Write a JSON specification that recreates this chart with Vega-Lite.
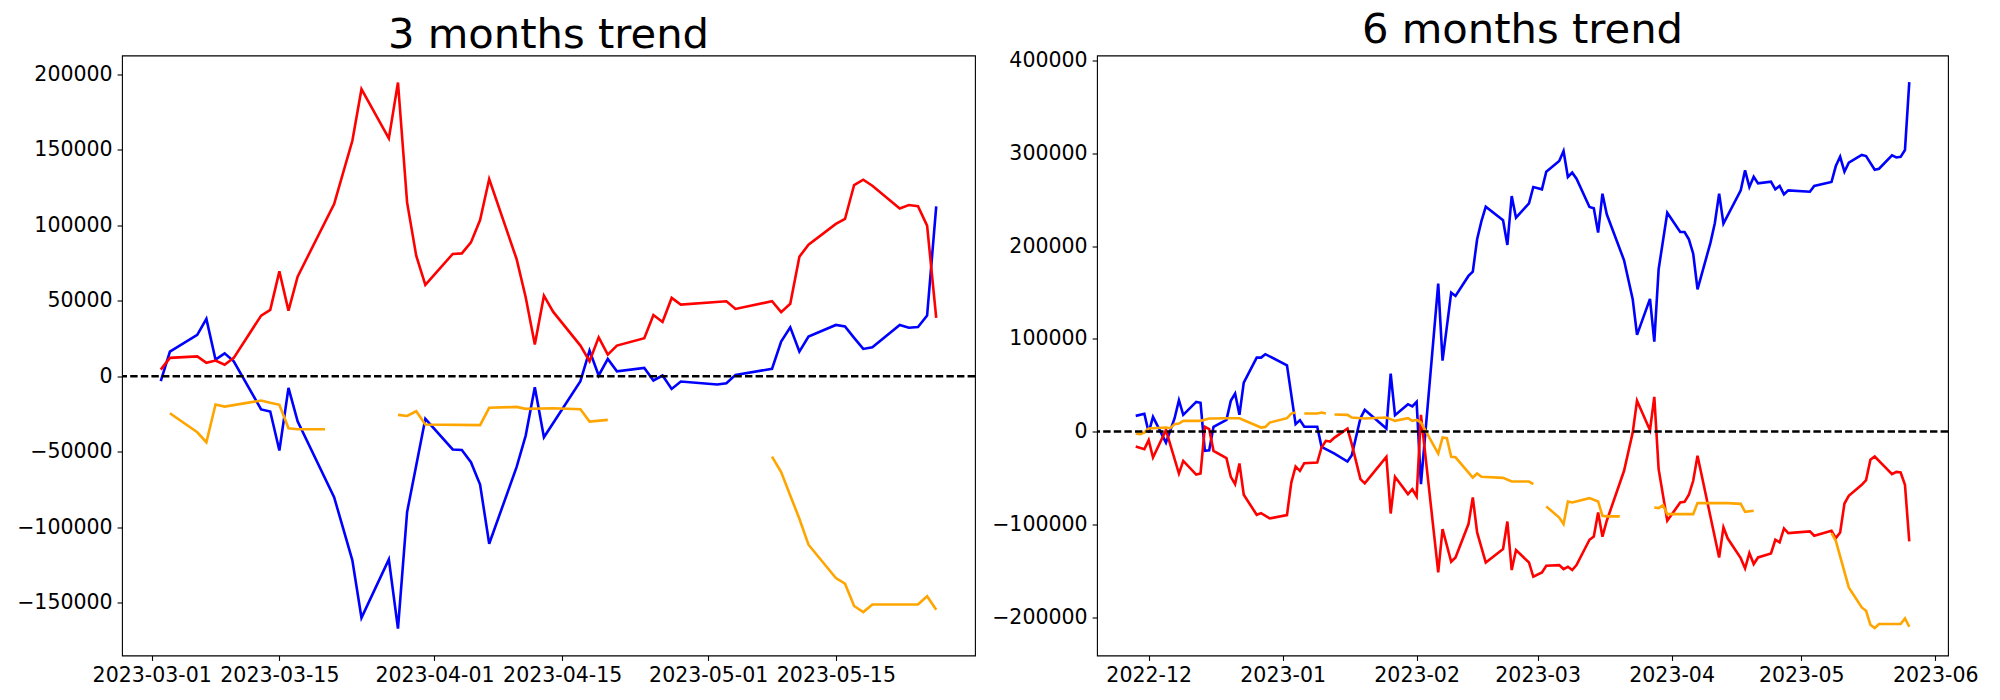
{
"$schema":"https://vega.github.io/schema/vega-lite/v6.json",
"padding":{"left":16,"top":8.5,"right":0,"bottom":0},
"spacing":14,
"background":"white",
"config":{
 "view":{"stroke":"black","strokeWidth":1.1},
 "axis":{"grid":false,"domain":false,"tickColor":"black","tickSize":4.9,"tickWidth":1.1,"labelFont":"DejaVu Sans","labelFontSize":20.5,"labelColor":"black","labelPadding":5,"labelFlush":false,"labelOverlap":false,"labelBound":false},
 "title":{"font":"DejaVu Sans","fontSize":41.7,"fontWeight":"normal","color":"black","offset":-1,"anchor":"middle","baseline":"alphabetic"},
 "line":{"strokeWidth":2.6}
},
"datasets":{
"m3":[
{"d":"2023-03-02","s":"b","g":0,"v":-3300},{"d":"2023-03-03","s":"b","g":0,"v":16350},{"d":"2023-03-06","s":"b","g":0,"v":27400},{"d":"2023-03-07","s":"b","g":0,"v":38000},{"d":"2023-03-08","s":"b","g":0,"v":11000},{"d":"2023-03-09","s":"b","g":0,"v":15200},{"d":"2023-03-10","s":"b","g":0,"v":9900},{"d":"2023-03-13","s":"b","g":0,"v":-22000},{"d":"2023-03-14","s":"b","g":0,"v":-23400},{"d":"2023-03-15","s":"b","g":0,"v":-49200},{"d":"2023-03-16","s":"b","g":0,"v":-7700},{"d":"2023-03-17","s":"b","g":0,"v":-29800},{"d":"2023-03-21","s":"b","g":0,"v":-80100},{"d":"2023-03-22","s":"b","g":0,"v":-101000},{"d":"2023-03-23","s":"b","g":0,"v":-122000},{"d":"2023-03-24","s":"b","g":0,"v":-160000},{"d":"2023-03-27","s":"b","g":0,"v":-121300},{"d":"2023-03-28","s":"b","g":0,"v":-167200},{"d":"2023-03-29","s":"b","g":0,"v":-90000},{"d":"2023-03-30","s":"b","g":0,"v":-59100},{"d":"2023-03-31","s":"b","g":0,"v":-28200},{"d":"2023-04-03","s":"b","g":0,"v":-48500},{"d":"2023-04-04","s":"b","g":0,"v":-48800},{"d":"2023-04-05","s":"b","g":0,"v":-56900},{"d":"2023-04-06","s":"b","g":0,"v":-71700},{"d":"2023-04-07","s":"b","g":0,"v":-111000},{"d":"2023-04-10","s":"b","g":0,"v":-60200},{"d":"2023-04-11","s":"b","g":0,"v":-39300},{"d":"2023-04-12","s":"b","g":0,"v":-7300},{"d":"2023-04-13","s":"b","g":0,"v":-40400},{"d":"2023-04-17","s":"b","g":0,"v":-3300},{"d":"2023-04-18","s":"b","g":0,"v":17000},{"d":"2023-04-19","s":"b","g":0,"v":500},{"d":"2023-04-20","s":"b","g":0,"v":11500},{"d":"2023-04-21","s":"b","g":0,"v":3300},{"d":"2023-04-24","s":"b","g":0,"v":5500},{"d":"2023-04-25","s":"b","g":0,"v":-2800},{"d":"2023-04-26","s":"b","g":0,"v":500},{"d":"2023-04-27","s":"b","g":0,"v":-8400},{"d":"2023-04-28","s":"b","g":0,"v":-3500},{"d":"2023-05-02","s":"b","g":0,"v":-5500},{"d":"2023-05-03","s":"b","g":0,"v":-4600},{"d":"2023-05-04","s":"b","g":0,"v":900},{"d":"2023-05-08","s":"b","g":0,"v":4900},{"d":"2023-05-09","s":"b","g":0,"v":23000},{"d":"2023-05-10","s":"b","g":0,"v":32400},{"d":"2023-05-11","s":"b","g":0,"v":16350},{"d":"2023-05-12","s":"b","g":0,"v":26300},{"d":"2023-05-15","s":"b","g":0,"v":34000},{"d":"2023-05-16","s":"b","g":0,"v":33000},{"d":"2023-05-17","s":"b","g":0,"v":25400},{"d":"2023-05-18","s":"b","g":0,"v":18100},{"d":"2023-05-19","s":"b","g":0,"v":19200},{"d":"2023-05-22","s":"b","g":0,"v":34000},{"d":"2023-05-23","s":"b","g":0,"v":32100},{"d":"2023-05-24","s":"b","g":0,"v":32600},{"d":"2023-05-25","s":"b","g":0,"v":40200},{"d":"2023-05-26","s":"b","g":0,"v":112500},
{"d":"2023-03-02","s":"r","g":0,"v":4400},{"d":"2023-03-03","s":"r","g":0,"v":12200},{"d":"2023-03-06","s":"r","g":0,"v":13200},{"d":"2023-03-07","s":"r","g":0,"v":8900},{"d":"2023-03-08","s":"r","g":0,"v":10400},{"d":"2023-03-09","s":"r","g":0,"v":7600},{"d":"2023-03-10","s":"r","g":0,"v":12200},{"d":"2023-03-13","s":"r","g":0,"v":40200},{"d":"2023-03-14","s":"r","g":0,"v":44000},{"d":"2023-03-15","s":"r","g":0,"v":69500},{"d":"2023-03-16","s":"r","g":0,"v":43500},{"d":"2023-03-17","s":"r","g":0,"v":66000},{"d":"2023-03-21","s":"r","g":0,"v":114100},{"d":"2023-03-22","s":"r","g":0,"v":135000},{"d":"2023-03-23","s":"r","g":0,"v":156000},{"d":"2023-03-24","s":"r","g":0,"v":190200},{"d":"2023-03-27","s":"r","g":0,"v":157600},{"d":"2023-03-28","s":"r","g":0,"v":194600},{"d":"2023-03-29","s":"r","g":0,"v":115200},{"d":"2023-03-30","s":"r","g":0,"v":79900},{"d":"2023-03-31","s":"r","g":0,"v":60500},{"d":"2023-04-03","s":"r","g":0,"v":81000},{"d":"2023-04-04","s":"r","g":0,"v":81400},{"d":"2023-04-05","s":"r","g":0,"v":88700},{"d":"2023-04-06","s":"r","g":0,"v":103500},{"d":"2023-04-07","s":"r","g":0,"v":130700},{"d":"2023-04-10","s":"r","g":0,"v":77700},{"d":"2023-04-11","s":"r","g":0,"v":52300},{"d":"2023-04-12","s":"r","g":0,"v":21000},{"d":"2023-04-13","s":"r","g":0,"v":53400},{"d":"2023-04-14","s":"r","g":0,"v":42800},{"d":"2023-04-17","s":"r","g":0,"v":20300},{"d":"2023-04-18","s":"r","g":0,"v":10000},{"d":"2023-04-19","s":"r","g":0,"v":25800},{"d":"2023-04-20","s":"r","g":0,"v":14300},{"d":"2023-04-21","s":"r","g":0,"v":20300},{"d":"2023-04-24","s":"r","g":0,"v":25200},{"d":"2023-04-25","s":"r","g":0,"v":40600},{"d":"2023-04-26","s":"r","g":0,"v":36000},{"d":"2023-04-27","s":"r","g":0,"v":51900},{"d":"2023-04-28","s":"r","g":0,"v":47500},{"d":"2023-05-03","s":"r","g":0,"v":49700},{"d":"2023-05-04","s":"r","g":0,"v":44600},{"d":"2023-05-08","s":"r","g":0,"v":49700},{"d":"2023-05-09","s":"r","g":0,"v":42500},{"d":"2023-05-10","s":"r","g":0,"v":48000},{"d":"2023-05-11","s":"r","g":0,"v":79200},{"d":"2023-05-12","s":"r","g":0,"v":87200},{"d":"2023-05-15","s":"r","g":0,"v":100900},{"d":"2023-05-16","s":"r","g":0,"v":104200},{"d":"2023-05-17","s":"r","g":0,"v":126700},{"d":"2023-05-18","s":"r","g":0,"v":130200},{"d":"2023-05-19","s":"r","g":0,"v":126200},{"d":"2023-05-22","s":"r","g":0,"v":111200},{"d":"2023-05-23","s":"r","g":0,"v":113400},{"d":"2023-05-24","s":"r","g":0,"v":112600},{"d":"2023-05-25","s":"r","g":0,"v":99800},{"d":"2023-05-26","s":"r","g":0,"v":38700},
{"d":"2023-03-03","s":"o","g":1,"v":-24500},{"d":"2023-03-06","s":"o","g":1,"v":-37100},{"d":"2023-03-07","s":"o","g":1,"v":-43700},{"d":"2023-03-08","s":"o","g":1,"v":-18700},{"d":"2023-03-09","s":"o","g":1,"v":-20100},{"d":"2023-03-13","s":"o","g":1,"v":-16100},{"d":"2023-03-14","s":"o","g":1,"v":-17600},{"d":"2023-03-15","s":"o","g":1,"v":-18900},{"d":"2023-03-16","s":"o","g":1,"v":-34400},{"d":"2023-03-17","s":"o","g":1,"v":-35100},{"d":"2023-03-20","s":"o","g":1,"v":-35100},
{"d":"2023-03-28","s":"o","g":2,"v":-25600},{"d":"2023-03-29","s":"o","g":2,"v":-26300},{"d":"2023-03-30","s":"o","g":2,"v":-23200},{"d":"2023-03-31","s":"o","g":2,"v":-32000},{"d":"2023-04-06","s":"o","g":2,"v":-32400},{"d":"2023-04-07","s":"o","g":2,"v":-20900},{"d":"2023-04-10","s":"o","g":2,"v":-20300},{"d":"2023-04-11","s":"o","g":2,"v":-21600},{"d":"2023-04-14","s":"o","g":2,"v":-21200},{"d":"2023-04-17","s":"o","g":2,"v":-21900},{"d":"2023-04-18","s":"o","g":2,"v":-30000},{"d":"2023-04-20","s":"o","g":2,"v":-28900},
{"d":"2023-05-08","s":"o","g":3,"v":-53200},{"d":"2023-05-09","s":"o","g":3,"v":-63500},{"d":"2023-05-10","s":"o","g":3,"v":-79000},{"d":"2023-05-11","s":"o","g":3,"v":-94400},{"d":"2023-05-12","s":"o","g":3,"v":-111600},{"d":"2023-05-15","s":"o","g":3,"v":-133700},{"d":"2023-05-16","s":"o","g":3,"v":-137400},{"d":"2023-05-17","s":"o","g":3,"v":-152200},{"d":"2023-05-18","s":"o","g":3,"v":-156200},{"d":"2023-05-19","s":"o","g":3,"v":-151200},{"d":"2023-05-24","s":"o","g":3,"v":-151200},{"d":"2023-05-25","s":"o","g":3,"v":-145800},{"d":"2023-05-26","s":"o","g":3,"v":-154700}
],
"m6":[
{"d":"2022-11-28","s":"b","g":0,"v":16900},{"d":"2022-11-30","s":"b","g":0,"v":19100},{"d":"2022-12-01","s":"b","g":0,"v":-1100},{"d":"2022-12-02","s":"b","g":0,"v":15800},{"d":"2022-12-05","s":"b","g":0,"v":-11900},{"d":"2022-12-07","s":"b","g":0,"v":14400},{"d":"2022-12-08","s":"b","g":0,"v":33800},{"d":"2022-12-09","s":"b","g":0,"v":18000},{"d":"2022-12-12","s":"b","g":0,"v":32000},{"d":"2022-12-13","s":"b","g":0,"v":31000},{"d":"2022-12-14","s":"b","g":0,"v":-20800},{"d":"2022-12-15","s":"b","g":0,"v":-20200},{"d":"2022-12-16","s":"b","g":0,"v":5100},{"d":"2022-12-19","s":"b","g":0,"v":12600},{"d":"2022-12-20","s":"b","g":0,"v":33100},{"d":"2022-12-21","s":"b","g":0,"v":41000},{"d":"2022-12-22","s":"b","g":0,"v":18000},{"d":"2022-12-23","s":"b","g":0,"v":52800},{"d":"2022-12-26","s":"b","g":0,"v":79700},{"d":"2022-12-27","s":"b","g":0,"v":79700},{"d":"2022-12-28","s":"b","g":0,"v":83400},{"d":"2023-01-02","s":"b","g":0,"v":71500},{"d":"2023-01-04","s":"b","g":0,"v":8000},{"d":"2023-01-05","s":"b","g":0,"v":12300},{"d":"2023-01-06","s":"b","g":0,"v":5100},{"d":"2023-01-09","s":"b","g":0,"v":5100},{"d":"2023-01-10","s":"b","g":0,"v":-16500},{"d":"2023-01-11","s":"b","g":0,"v":-18900},{"d":"2023-01-13","s":"b","g":0,"v":-23700},{"d":"2023-01-16","s":"b","g":0,"v":-32300},{"d":"2023-01-17","s":"b","g":0,"v":-25500},{"d":"2023-01-19","s":"b","g":0,"v":14400},{"d":"2023-01-20","s":"b","g":0,"v":23400},{"d":"2023-01-25","s":"b","g":0,"v":3200},{"d":"2023-01-26","s":"b","g":0,"v":62500},{"d":"2023-01-27","s":"b","g":0,"v":17700},{"d":"2023-01-30","s":"b","g":0,"v":29500},{"d":"2023-01-31","s":"b","g":0,"v":27200},{"d":"2023-02-01","s":"b","g":0,"v":32000},{"d":"2023-02-02","s":"b","g":0,"v":-56700},{"d":"2023-02-06","s":"b","g":0,"v":159500},{"d":"2023-02-07","s":"b","g":0,"v":76500},{"d":"2023-02-09","s":"b","g":0,"v":149800},{"d":"2023-02-10","s":"b","g":0,"v":146200},{"d":"2023-02-13","s":"b","g":0,"v":167800},{"d":"2023-02-14","s":"b","g":0,"v":172500},{"d":"2023-02-15","s":"b","g":0,"v":207300},{"d":"2023-02-16","s":"b","g":0,"v":227000},{"d":"2023-02-17","s":"b","g":0,"v":242500},{"d":"2023-02-21","s":"b","g":0,"v":227800},{"d":"2023-02-22","s":"b","g":0,"v":201200},{"d":"2023-02-23","s":"b","g":0,"v":254000},{"d":"2023-02-24","s":"b","g":0,"v":230600},{"d":"2023-02-27","s":"b","g":0,"v":246100},{"d":"2023-02-28","s":"b","g":0,"v":263700},{"d":"2023-03-02","s":"b","g":0,"v":261200},{"d":"2023-03-03","s":"b","g":0,"v":280200},{"d":"2023-03-06","s":"b","g":0,"v":291700},{"d":"2023-03-07","s":"b","g":0,"v":302500},{"d":"2023-03-08","s":"b","g":0,"v":274500},{"d":"2023-03-09","s":"b","g":0,"v":279200},{"d":"2023-03-10","s":"b","g":0,"v":272700},{"d":"2023-03-13","s":"b","g":0,"v":242100},{"d":"2023-03-14","s":"b","g":0,"v":240700},{"d":"2023-03-15","s":"b","g":0,"v":214500},{"d":"2023-03-16","s":"b","g":0,"v":256500},{"d":"2023-03-17","s":"b","g":0,"v":234300},{"d":"2023-03-21","s":"b","g":0,"v":184700},{"d":"2023-03-23","s":"b","g":0,"v":142700},{"d":"2023-03-24","s":"b","g":0,"v":104200},{"d":"2023-03-27","s":"b","g":0,"v":143000},{"d":"2023-03-28","s":"b","g":0,"v":97000},{"d":"2023-03-29","s":"b","g":0,"v":175000},{"d":"2023-03-31","s":"b","g":0,"v":236000},{"d":"2023-04-03","s":"b","g":0,"v":215200},{"d":"2023-04-04","s":"b","g":0,"v":215200},{"d":"2023-04-05","s":"b","g":0,"v":207300},{"d":"2023-04-06","s":"b","g":0,"v":191800},{"d":"2023-04-07","s":"b","g":0,"v":153400},{"d":"2023-04-10","s":"b","g":0,"v":203700},{"d":"2023-04-11","s":"b","g":0,"v":224600},{"d":"2023-04-12","s":"b","g":0,"v":256500},{"d":"2023-04-13","s":"b","g":0,"v":224200},{"d":"2023-04-17","s":"b","g":0,"v":260100},{"d":"2023-04-18","s":"b","g":0,"v":281700},{"d":"2023-04-19","s":"b","g":0,"v":263700},{"d":"2023-04-20","s":"b","g":0,"v":274800},{"d":"2023-04-21","s":"b","g":0,"v":267600},{"d":"2023-04-24","s":"b","g":0,"v":269400},{"d":"2023-04-25","s":"b","g":0,"v":261200},{"d":"2023-04-26","s":"b","g":0,"v":264800},{"d":"2023-04-27","s":"b","g":0,"v":255800},{"d":"2023-04-28","s":"b","g":0,"v":260100},{"d":"2023-05-03","s":"b","g":0,"v":258600},{"d":"2023-05-04","s":"b","g":0,"v":264800},{"d":"2023-05-08","s":"b","g":0,"v":269100},{"d":"2023-05-09","s":"b","g":0,"v":286300},{"d":"2023-05-10","s":"b","g":0,"v":296300},{"d":"2023-05-11","s":"b","g":0,"v":280200},{"d":"2023-05-12","s":"b","g":0,"v":289900},{"d":"2023-05-15","s":"b","g":0,"v":298200},{"d":"2023-05-16","s":"b","g":0,"v":297100},{"d":"2023-05-18","s":"b","g":0,"v":282300},{"d":"2023-05-19","s":"b","g":0,"v":283400},{"d":"2023-05-22","s":"b","g":0,"v":297800},{"d":"2023-05-23","s":"b","g":0,"v":295500},{"d":"2023-05-24","s":"b","g":0,"v":296200},{"d":"2023-05-25","s":"b","g":0,"v":303600},{"d":"2023-05-26","s":"b","g":0,"v":376800},
{"d":"2022-11-28","s":"r","g":0,"v":-16200},{"d":"2022-11-30","s":"r","g":0,"v":-19000},{"d":"2022-12-01","s":"r","g":0,"v":-9300},{"d":"2022-12-02","s":"r","g":0,"v":-28000},{"d":"2022-12-05","s":"r","g":0,"v":1500},{"d":"2022-12-08","s":"r","g":0,"v":-45300},{"d":"2022-12-09","s":"r","g":0,"v":-31600},{"d":"2022-12-12","s":"r","g":0,"v":-46400},{"d":"2022-12-13","s":"r","g":0,"v":-45300},{"d":"2022-12-14","s":"r","g":0,"v":5100},{"d":"2022-12-15","s":"r","g":0,"v":2600},{"d":"2022-12-16","s":"r","g":0,"v":-20800},{"d":"2022-12-19","s":"r","g":0,"v":-28700},{"d":"2022-12-20","s":"r","g":0,"v":-48800},{"d":"2022-12-21","s":"r","g":0,"v":-56700},{"d":"2022-12-22","s":"r","g":0,"v":-34500},{"d":"2022-12-23","s":"r","g":0,"v":-68200},{"d":"2022-12-26","s":"r","g":0,"v":-89800},{"d":"2022-12-27","s":"r","g":0,"v":-88000},{"d":"2022-12-29","s":"r","g":0,"v":-93700},{"d":"2023-01-02","s":"r","g":0,"v":-90100},{"d":"2023-01-03","s":"r","g":0,"v":-55000},{"d":"2023-01-04","s":"r","g":0,"v":-37700},{"d":"2023-01-05","s":"r","g":0,"v":-42400},{"d":"2023-01-06","s":"r","g":0,"v":-34100},{"d":"2023-01-09","s":"r","g":0,"v":-33400},{"d":"2023-01-10","s":"r","g":0,"v":-17200},{"d":"2023-01-11","s":"r","g":0,"v":-10000},{"d":"2023-01-12","s":"r","g":0,"v":-10800},{"d":"2023-01-13","s":"r","g":0,"v":-6500},{"d":"2023-01-16","s":"r","g":0,"v":3200},{"d":"2023-01-17","s":"r","g":0,"v":-13600},{"d":"2023-01-19","s":"r","g":0,"v":-51300},{"d":"2023-01-20","s":"r","g":0,"v":-55900},{"d":"2023-01-25","s":"r","g":0,"v":-27300},{"d":"2023-01-26","s":"r","g":0,"v":-88400},{"d":"2023-01-27","s":"r","g":0,"v":-48800},{"d":"2023-01-30","s":"r","g":0,"v":-67500},{"d":"2023-01-31","s":"r","g":0,"v":-62200},{"d":"2023-02-01","s":"r","g":0,"v":-70000},{"d":"2023-02-02","s":"r","g":0,"v":18000},{"d":"2023-02-06","s":"r","g":0,"v":-151900},{"d":"2023-02-07","s":"r","g":0,"v":-105200},{"d":"2023-02-09","s":"r","g":0,"v":-140400},{"d":"2023-02-10","s":"r","g":0,"v":-135800},{"d":"2023-02-13","s":"r","g":0,"v":-99800},{"d":"2023-02-14","s":"r","g":0,"v":-71100},{"d":"2023-02-15","s":"r","g":0,"v":-108800},{"d":"2023-02-17","s":"r","g":0,"v":-141200},{"d":"2023-02-21","s":"r","g":0,"v":-126700},{"d":"2023-02-22","s":"r","g":0,"v":-97000},{"d":"2023-02-23","s":"r","g":0,"v":-149400},{"d":"2023-02-24","s":"r","g":0,"v":-127800},{"d":"2023-02-27","s":"r","g":0,"v":-141200},{"d":"2023-02-28","s":"r","g":0,"v":-156600},{"d":"2023-03-02","s":"r","g":0,"v":-151900},{"d":"2023-03-03","s":"r","g":0,"v":-144700},{"d":"2023-03-06","s":"r","g":0,"v":-144000},{"d":"2023-03-07","s":"r","g":0,"v":-148300},{"d":"2023-03-08","s":"r","g":0,"v":-145800},{"d":"2023-03-09","s":"r","g":0,"v":-149400},{"d":"2023-03-10","s":"r","g":0,"v":-144000},{"d":"2023-03-13","s":"r","g":0,"v":-116700},{"d":"2023-03-14","s":"r","g":0,"v":-113100},{"d":"2023-03-15","s":"r","g":0,"v":-87300},{"d":"2023-03-16","s":"r","g":0,"v":-113400},{"d":"2023-03-17","s":"r","g":0,"v":-96200},{"d":"2023-03-21","s":"r","g":0,"v":-42300},{"d":"2023-03-23","s":"r","g":0,"v":-1100},{"d":"2023-03-24","s":"r","g":0,"v":33100},{"d":"2023-03-27","s":"r","g":0,"v":1500},{"d":"2023-03-28","s":"r","g":0,"v":37400},{"d":"2023-03-29","s":"r","g":0,"v":-40500},{"d":"2023-03-31","s":"r","g":0,"v":-96200},{"d":"2023-04-03","s":"r","g":0,"v":-76500},{"d":"2023-04-04","s":"r","g":0,"v":-75800},{"d":"2023-04-05","s":"r","g":0,"v":-68200},{"d":"2023-04-06","s":"r","g":0,"v":-53100},{"d":"2023-04-07","s":"r","g":0,"v":-26200},{"d":"2023-04-12","s":"r","g":0,"v":-135800},{"d":"2023-04-13","s":"r","g":0,"v":-103400},{"d":"2023-04-14","s":"r","g":0,"v":-115400},{"d":"2023-04-17","s":"r","g":0,"v":-136500},{"d":"2023-04-18","s":"r","g":0,"v":-147600},{"d":"2023-04-19","s":"r","g":0,"v":-131000},{"d":"2023-04-20","s":"r","g":0,"v":-142900},{"d":"2023-04-21","s":"r","g":0,"v":-135800},{"d":"2023-04-24","s":"r","g":0,"v":-131500},{"d":"2023-04-25","s":"r","g":0,"v":-116700},{"d":"2023-04-26","s":"r","g":0,"v":-119500},{"d":"2023-04-27","s":"r","g":0,"v":-104500},{"d":"2023-04-28","s":"r","g":0,"v":-109500},{"d":"2023-05-03","s":"r","g":0,"v":-107700},{"d":"2023-05-04","s":"r","g":0,"v":-112400},{"d":"2023-05-08","s":"r","g":0,"v":-107000},{"d":"2023-05-09","s":"r","g":0,"v":-114900},{"d":"2023-05-10","s":"r","g":0,"v":-108800},{"d":"2023-05-11","s":"r","g":0,"v":-77600},{"d":"2023-05-12","s":"r","g":0,"v":-69300},{"d":"2023-05-15","s":"r","g":0,"v":-57400},{"d":"2023-05-16","s":"r","g":0,"v":-52400},{"d":"2023-05-17","s":"r","g":0,"v":-30500},{"d":"2023-05-18","s":"r","g":0,"v":-26900},{"d":"2023-05-22","s":"r","g":0,"v":-45900},{"d":"2023-05-23","s":"r","g":0,"v":-43500},{"d":"2023-05-24","s":"r","g":0,"v":-44200},{"d":"2023-05-25","s":"r","g":0,"v":-57400},{"d":"2023-05-26","s":"r","g":0,"v":-118500},
{"d":"2022-11-28","s":"o","g":1,"v":-2100},{"d":"2022-11-29","s":"o","g":1,"v":-2800},{"d":"2022-11-30","s":"o","g":1,"v":-1100},{"d":"2022-12-01","s":"o","g":1,"v":3200},{"d":"2022-12-02","s":"o","g":1,"v":3600},{"d":"2022-12-05","s":"o","g":1,"v":4300},{"d":"2022-12-06","s":"o","g":1,"v":3600},{"d":"2022-12-07","s":"o","g":1,"v":8000},{"d":"2022-12-08","s":"o","g":1,"v":8600},{"d":"2022-12-09","s":"o","g":1,"v":11500},{"d":"2022-12-13","s":"o","g":1,"v":11500},{"d":"2022-12-15","s":"o","g":1,"v":14000},{"d":"2022-12-16","s":"o","g":1,"v":14000},{"d":"2022-12-19","s":"o","g":1,"v":14400},{"d":"2022-12-22","s":"o","g":1,"v":14400},{"d":"2022-12-27","s":"o","g":1,"v":4300},{"d":"2022-12-28","s":"o","g":1,"v":5000},{"d":"2022-12-29","s":"o","g":1,"v":9700},{"d":"2023-01-02","s":"o","g":1,"v":14400},{"d":"2023-01-03","s":"o","g":1,"v":19400},{"d":"2023-01-04","s":"o","g":1,"v":20500},
{"d":"2023-01-06","s":"o","g":2,"v":19400},{"d":"2023-01-09","s":"o","g":2,"v":19400},{"d":"2023-01-10","s":"o","g":2,"v":20500},{"d":"2023-01-11","s":"o","g":2,"v":19400},
{"d":"2023-01-13","s":"o","g":3,"v":18300},{"d":"2023-01-16","s":"o","g":3,"v":18000},{"d":"2023-01-17","s":"o","g":3,"v":15100},{"d":"2023-01-20","s":"o","g":3,"v":14000},{"d":"2023-01-25","s":"o","g":3,"v":15100},{"d":"2023-01-27","s":"o","g":3,"v":11500},{"d":"2023-01-30","s":"o","g":3,"v":14400},{"d":"2023-01-31","s":"o","g":3,"v":11500},{"d":"2023-02-01","s":"o","g":3,"v":12500},{"d":"2023-02-02","s":"o","g":3,"v":9700},{"d":"2023-02-06","s":"o","g":3,"v":-23700},{"d":"2023-02-07","s":"o","g":3,"v":-6500},{"d":"2023-02-08","s":"o","g":3,"v":-7200},{"d":"2023-02-09","s":"o","g":3,"v":-27300},{"d":"2023-02-10","s":"o","g":3,"v":-27800},{"d":"2023-02-14","s":"o","g":3,"v":-49600},{"d":"2023-02-15","s":"o","g":3,"v":-45300},{"d":"2023-02-16","s":"o","g":3,"v":-48800},{"d":"2023-02-21","s":"o","g":3,"v":-50000},{"d":"2023-02-23","s":"o","g":3,"v":-53900},{"d":"2023-02-27","s":"o","g":3,"v":-53900},{"d":"2023-02-28","s":"o","g":3,"v":-56700},
{"d":"2023-03-03","s":"o","g":4,"v":-80800},{"d":"2023-03-06","s":"o","g":4,"v":-92700},{"d":"2023-03-07","s":"o","g":4,"v":-99800},{"d":"2023-03-08","s":"o","g":4,"v":-75400},{"d":"2023-03-09","s":"o","g":4,"v":-76500},{"d":"2023-03-13","s":"o","g":4,"v":-71800},{"d":"2023-03-15","s":"o","g":4,"v":-75400},{"d":"2023-03-16","s":"o","g":4,"v":-90800},{"d":"2023-03-17","s":"o","g":4,"v":-91500},{"d":"2023-03-20","s":"o","g":4,"v":-91500},
{"d":"2023-03-28","s":"o","g":5,"v":-81900},{"d":"2023-03-29","s":"o","g":5,"v":-82600},{"d":"2023-03-30","s":"o","g":5,"v":-79300},{"d":"2023-03-31","s":"o","g":5,"v":-89000},{"d":"2023-04-06","s":"o","g":5,"v":-89000},{"d":"2023-04-07","s":"o","g":5,"v":-77200},{"d":"2023-04-10","s":"o","g":5,"v":-77200},{"d":"2023-04-14","s":"o","g":5,"v":-77200},{"d":"2023-04-17","s":"o","g":5,"v":-78000},{"d":"2023-04-18","s":"o","g":5,"v":-86500},{"d":"2023-04-20","s":"o","g":5,"v":-85400},
{"d":"2023-05-08","s":"o","g":6,"v":-109500},{"d":"2023-05-09","s":"o","g":6,"v":-117800},{"d":"2023-05-12","s":"o","g":6,"v":-168100},{"d":"2023-05-15","s":"o","g":6,"v":-189700},{"d":"2023-05-16","s":"o","g":6,"v":-193300},{"d":"2023-05-17","s":"o","g":6,"v":-208300},{"d":"2023-05-18","s":"o","g":6,"v":-211900},{"d":"2023-05-19","s":"o","g":6,"v":-207600},{"d":"2023-05-24","s":"o","g":6,"v":-207600},{"d":"2023-05-25","s":"o","g":6,"v":-201500},{"d":"2023-05-26","s":"o","g":6,"v":-210500}
]
},
"hconcat":[
{
 "width":853,"height":600,
 "title":"3 months trend",
 "layer":[
  {"data":{"name":"m3"},"mark":{"type":"line","strokeWidth":2.6},
   "encoding":{
    "x":{"field":"d","type":"temporal","title":null,
      "scale":{"type":"utc","domain":[{"year":2023,"month":2,"date":25,"hours":18,"utc":true},{"year":2023,"month":5,"date":30,"hours":6,"utc":true}]},
      "axis":{"labelExpr":"utcFormat(datum.value, '%Y-%m-%d')","labelFont":"DejaVu Sans","labelFontSize":20.5,"values":[{"year":2023,"month":3,"date":1,"utc":true},{"year":2023,"month":3,"date":15,"utc":true},{"year":2023,"month":4,"date":1,"utc":true},{"year":2023,"month":4,"date":15,"utc":true},{"year":2023,"month":5,"date":1,"utc":true},{"year":2023,"month":5,"date":15,"utc":true}]}},
    "y":{"field":"v","type":"quantitative","title":null,
      "scale":{"domain":[-185000,212500],"nice":false,"zero":false},
      "axis":{"format":"d","labelFont":"DejaVu Sans","labelFontSize":20.5,"values":[-150000,-100000,-50000,0,50000,100000,150000,200000]}},
    "color":{"field":"s","type":"nominal","legend":null,"scale":{"domain":["b","r","o"],"range":["#0000ff","#ff0000","#ffa500"]}},
    "detail":{"field":"g"}
   }},
  {"data":{"values":[{}]},"mark":{"type":"rule","strokeDash":[7.4,3.2],"strokeWidth":2.4,"color":"black"},"encoding":{"y":{"datum":0}}}
 ]
},
{
 "width":851,"height":600,
 "title":"6 months trend",
 "layer":[
  {"data":{"name":"m6"},"mark":{"type":"line","strokeWidth":2.6},
   "encoding":{
    "x":{"field":"d","type":"temporal","title":null,
      "scale":{"type":"utc","domain":[{"year":2022,"month":11,"date":19,"hours":1,"utc":true},{"year":2023,"month":6,"date":3,"hours":23,"utc":true}]},
      "axis":{"labelExpr":"utcFormat(datum.value, '%Y-%m')","labelFont":"DejaVu Sans","labelFontSize":20.5,"values":[{"year":2022,"month":12,"date":1,"utc":true},{"year":2023,"month":1,"date":1,"utc":true},{"year":2023,"month":2,"date":1,"utc":true},{"year":2023,"month":3,"date":1,"utc":true},{"year":2023,"month":4,"date":1,"utc":true},{"year":2023,"month":5,"date":1,"utc":true},{"year":2023,"month":6,"date":1,"utc":true}]}},
    "y":{"field":"v","type":"quantitative","title":null,
      "scale":{"domain":[-241500,405500],"nice":false,"zero":false},
      "axis":{"format":"d","labelFont":"DejaVu Sans","labelFontSize":20.5,"values":[-200000,-100000,0,100000,200000,300000,400000]}},
    "color":{"field":"s","type":"nominal","legend":null,"scale":{"domain":["b","r","o"],"range":["#0000ff","#ff0000","#ffa500"]}},
    "detail":{"field":"g"}
   }},
  {"data":{"values":[{}]},"mark":{"type":"rule","strokeDash":[7.4,3.2],"strokeWidth":2.4,"color":"black"},"encoding":{"y":{"datum":0}}}
 ]
}
],
"resolve":{"scale":{"color":"shared"}}
}
